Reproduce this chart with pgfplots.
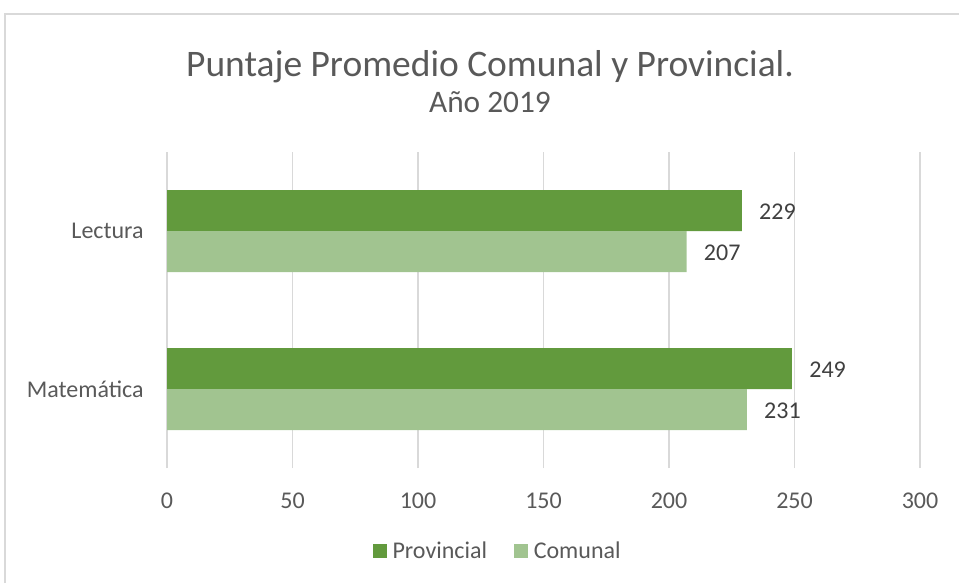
\documentclass[border=0pt]{standalone}
\usepackage{pgfplots}
\pgfplotsset{compat=1.18}
\usepackage{fontspec}
\setmainfont{Carlito}
\definecolor{prov}{HTML}{629A3D}
\definecolor{comu}{HTML}{A1C490}
\definecolor{txt}{HTML}{595959}
\definecolor{lbl}{HTML}{404040}
\definecolor{gridc}{HTML}{D9D9D9}
\begin{document}
\begin{tikzpicture}[x=0.75pt,y=-0.75pt]
\path[use as bounding box] (0,0) rectangle (959,583);
\draw[gridc, line width=1.2pt] (5,583) -- (5,14) -- (959,14);
\node[txt, font=\fontsize{28.1}{33}\selectfont] at (490,67) {Puntaje Promedio Comunal y Provincial.};
\node[txt, font=\fontsize{23.5}{28}\selectfont] at (490,102) {Año 2019};
\coordinate (A) at (167,152);
\begin{axis}[at={(A)}, anchor=north west, scale only axis,
  width=564.75pt, height=237pt,
  xmin=0, xmax=300, ymin=-0.5, ymax=1.5,
  xbar, bar width=30.75pt,
  axis line style={draw=none}, major tick length=0pt,
  xmajorgrids, grid style={gridc, line width=1.1pt},
  xtick={0,50,...,300}, ytick={0,1}, yticklabels={Matemática,Lectura},
  /pgf/number format/assume math mode=true,
  ticklabel style={txt, font=\fontsize{18}{21}\selectfont},
  xticklabel style={yshift=-15pt},
  yticklabel style={xshift=-14pt},
  nodes near coords,
  nodes near coords style={lbl, font=\fontsize{18}{21}\selectfont, anchor=west, xshift=9.5pt, yshift=-1pt},
  clip=false,
  legend columns=2,
  legend style={at={(0.4395,-0.2627)}, anchor=center, draw=none, fill=none,
    font=\fontsize{18}{21}\selectfont, text=txt,
    /tikz/every even column/.append style={column sep=18pt},
    /tikz/every odd column/.append style={column sep=2.5pt}},
  legend image code/.code={\draw[#1, draw=none] (0pt,-5.25pt) rectangle (10.5pt,5.25pt);},
]
\addplot[fill=prov, draw=none, bar shift=15.375pt] coordinates {(229,1) (249,0)};
\addplot[fill=comu, draw=none, bar shift=-15.375pt] coordinates {(207,1) (231,0)};
\legend{Provincial, Comunal}
\end{axis}
\end{tikzpicture}
\end{document}
